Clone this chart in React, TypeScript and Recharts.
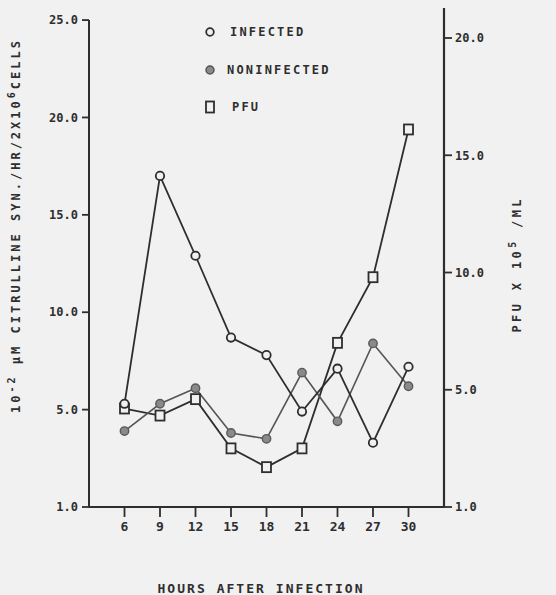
import React from "react";
import {
  LineChart,
  Line,
  XAxis,
  YAxis,
  Legend,
  ReferenceLine,
} from "recharts";

const hours = [6, 9, 12, 15, 18, 21, 24, 27, 30];
const infected = [5.3, 17.0, 12.9, 8.7, 7.8, 4.9, 7.1, 3.3, 7.2];
const noninfected = [3.9, 5.3, 6.1, 3.8, 3.5, 6.9, 4.4, 8.4, 6.2];
const pfu = [4.2, 3.9, 4.6, 2.5, 1.7, 2.5, 7.0, 9.8, 16.1];

const leftTicks = [0, 5, 10, 15, 20, 25];
const leftTickLabels = ["1.0", "5.0", "10.0", "15.0", "20.0", "25.0"];
const rightTicks = [0, 5, 10, 15, 20];
const rightTickLabels = ["1.0", "5.0", "10.0", "15.0", "20.0"];

const seriesNames = ["INFECTED", "NONINFECTED", "PFU"];

const data = hours.map((h, i) => ({
  hour: h,
  infected: infected[i],
  noninfected: noninfected[i],
  pfu: pfu[i],
}));

const BG = "#f1f1f1";
const INK = "#2e2e2e";
const FONT = "'DejaVu Sans Mono', monospace";

const tickStyle = { fill: INK, fontSize: 12, fontFamily: FONT, fontWeight: 700 };

function SquareDot(props: any) {
  const { cx, cy, index } = props;
  if (cx == null || cy == null) return null;
  return (
    <rect
      key={`sq-${index}`}
      x={cx - 4.5}
      y={cy - 5}
      width={9}
      height={10}
      fill={BG}
      stroke={INK}
      strokeWidth={1.8}
    />
  );
}

function LegendBox() {
  const rowStyle: React.CSSProperties = {
    display: "flex",
    alignItems: "center",
    height: 14,
    marginBottom: 23.5,
    fontFamily: FONT,
    fontWeight: 700,
    fontSize: 12,
    letterSpacing: 2.2,
    color: INK,
  };
  return (
    <div>
      <div style={rowStyle}>
        <svg width={14} height={14} style={{ marginRight: 13 }}>
          <circle cx={7} cy={7} r={3.8} fill={BG} stroke={INK} strokeWidth={1.8} />
        </svg>
        <span>{seriesNames[0]}</span>
      </div>
      <div style={rowStyle}>
        <svg width={14} height={14} style={{ marginRight: 10 }}>
          <circle cx={7} cy={7} r={4} fill="#8a8a8a" stroke="#555" strokeWidth={1.5} />
        </svg>
        <span>{seriesNames[1]}</span>
      </div>
      <div style={rowStyle}>
        <svg width={14} height={14} style={{ marginRight: 15 }}>
          <rect x={3} y={1.5} width={8} height={11} fill={BG} stroke={INK} strokeWidth={1.8} />
        </svg>
        <span>{seriesNames[2]}</span>
      </div>
    </div>
  );
}

export default function App() {
  return (
    <div
      style={{
        position: "absolute",
        left: 0,
        top: 0,
        width: 556,
        height: 595,
        background: BG,
      }}
    >
      <LineChart
        width={556}
        height={595}
        data={data}
        margin={{ top: 8, right: 0, bottom: 0, left: 0 }}
      >
        <XAxis
          dataKey="hour"
          type="number"
          domain={[3, 33]}
          ticks={hours}
          interval={0}
          height={88}
          tick={{ ...tickStyle, fontSize: 13 }}
          tickSize={10}
          tickMargin={5}
          tickLine={{ stroke: INK, strokeWidth: 1.8 }}
          axisLine={{ stroke: INK, strokeWidth: 2 }}
          label={{
            content: () => (
              <text
                x={260}
                y={593}
                textAnchor="middle"
                fill={INK}
                fontFamily={FONT}
                fontWeight={700}
                fontSize={13}
                textLength={205}
                lengthAdjust="spacing"
              >
                HOURS AFTER INFECTION
              </text>
            ),
          }}
        />
        <YAxis
          yAxisId="left"
          width={89}
          domain={[0, 25.62]}
          ticks={leftTicks}
          interval={0}
          tickFormatter={(v: number) => leftTickLabels[leftTicks.indexOf(v)]}
          tick={tickStyle}
          tickSize={7}
          tickMargin={4}
          tickLine={{ stroke: INK, strokeWidth: 1.8 }}
          axisLine={false}
          label={{
            content: () => (
              <text
                x={16}
                y={227}
                textAnchor="middle"
                dominantBaseline="central"
                transform="rotate(-90, 16, 227)"
                fill={INK}
                fontFamily={FONT}
                fontWeight={700}
                fontSize={12}
                textLength={372}
                lengthAdjust="spacing"
              >
                10
                <tspan dy={-5} fontSize={10}>-2</tspan>
                <tspan dy={5}> µM CITRULLINE SYN./HR/2X10</tspan>
                <tspan dy={-5} fontSize={10}>6</tspan>
                <tspan dy={5}>CELLS</tspan>
              </text>
            ),
          }}
        />
        <YAxis
          yAxisId="right"
          orientation="right"
          width={112}
          domain={[0, 21.28]}
          ticks={rightTicks}
          interval={0}
          tickFormatter={(v: number) => rightTickLabels[rightTicks.indexOf(v)]}
          tick={tickStyle}
          tickSize={8}
          tickMargin={3}
          tickLine={{ stroke: INK, strokeWidth: 1.8 }}
          axisLine={{ stroke: INK, strokeWidth: 2.2 }}
          label={{
            content: () => (
              <text
                x={517}
                y={266}
                textAnchor="middle"
                dominantBaseline="central"
                transform="rotate(-90, 517, 266)"
                fill={INK}
                fontFamily={FONT}
                fontWeight={700}
                fontSize={12}
                textLength={133}
                lengthAdjust="spacing"
              >
                PFU X 10
                <tspan dy={-5} fontSize={10}>5</tspan>
                <tspan dy={5}> /ML</tspan>
              </text>
            ),
          }}
        />
        <ReferenceLine
          yAxisId="left"
          segment={[
            { x: 3, y: 0 },
            { x: 3, y: 25 },
          ]}
          stroke={INK}
          strokeWidth={2}
        />
        <Legend
          verticalAlign="middle"
          align="center"
          layout="vertical"
          content={() => <LegendBox />}
          wrapperStyle={{ position: "absolute", top: 25, left: 203, width: 200 }}
        />
        <Line
          yAxisId="right"
          dataKey="pfu"
          type="linear"
          stroke={INK}
          strokeWidth={1.8}
          dot={(p: any) => <SquareDot {...p} />}
          isAnimationActive={false}
        />
        <Line
          yAxisId="left"
          dataKey="noninfected"
          type="linear"
          stroke="#555"
          strokeWidth={1.6}
          dot={{ r: 4.2, fill: "#8a8a8a", stroke: "#5a5a5a", strokeWidth: 1.4 }}
          isAnimationActive={false}
        />
        <Line
          yAxisId="left"
          dataKey="infected"
          type="linear"
          stroke={INK}
          strokeWidth={1.8}
          dot={{ r: 4.2, fill: BG, stroke: INK, strokeWidth: 1.8 }}
          isAnimationActive={false}
        />
      </LineChart>
    </div>
  );
}
